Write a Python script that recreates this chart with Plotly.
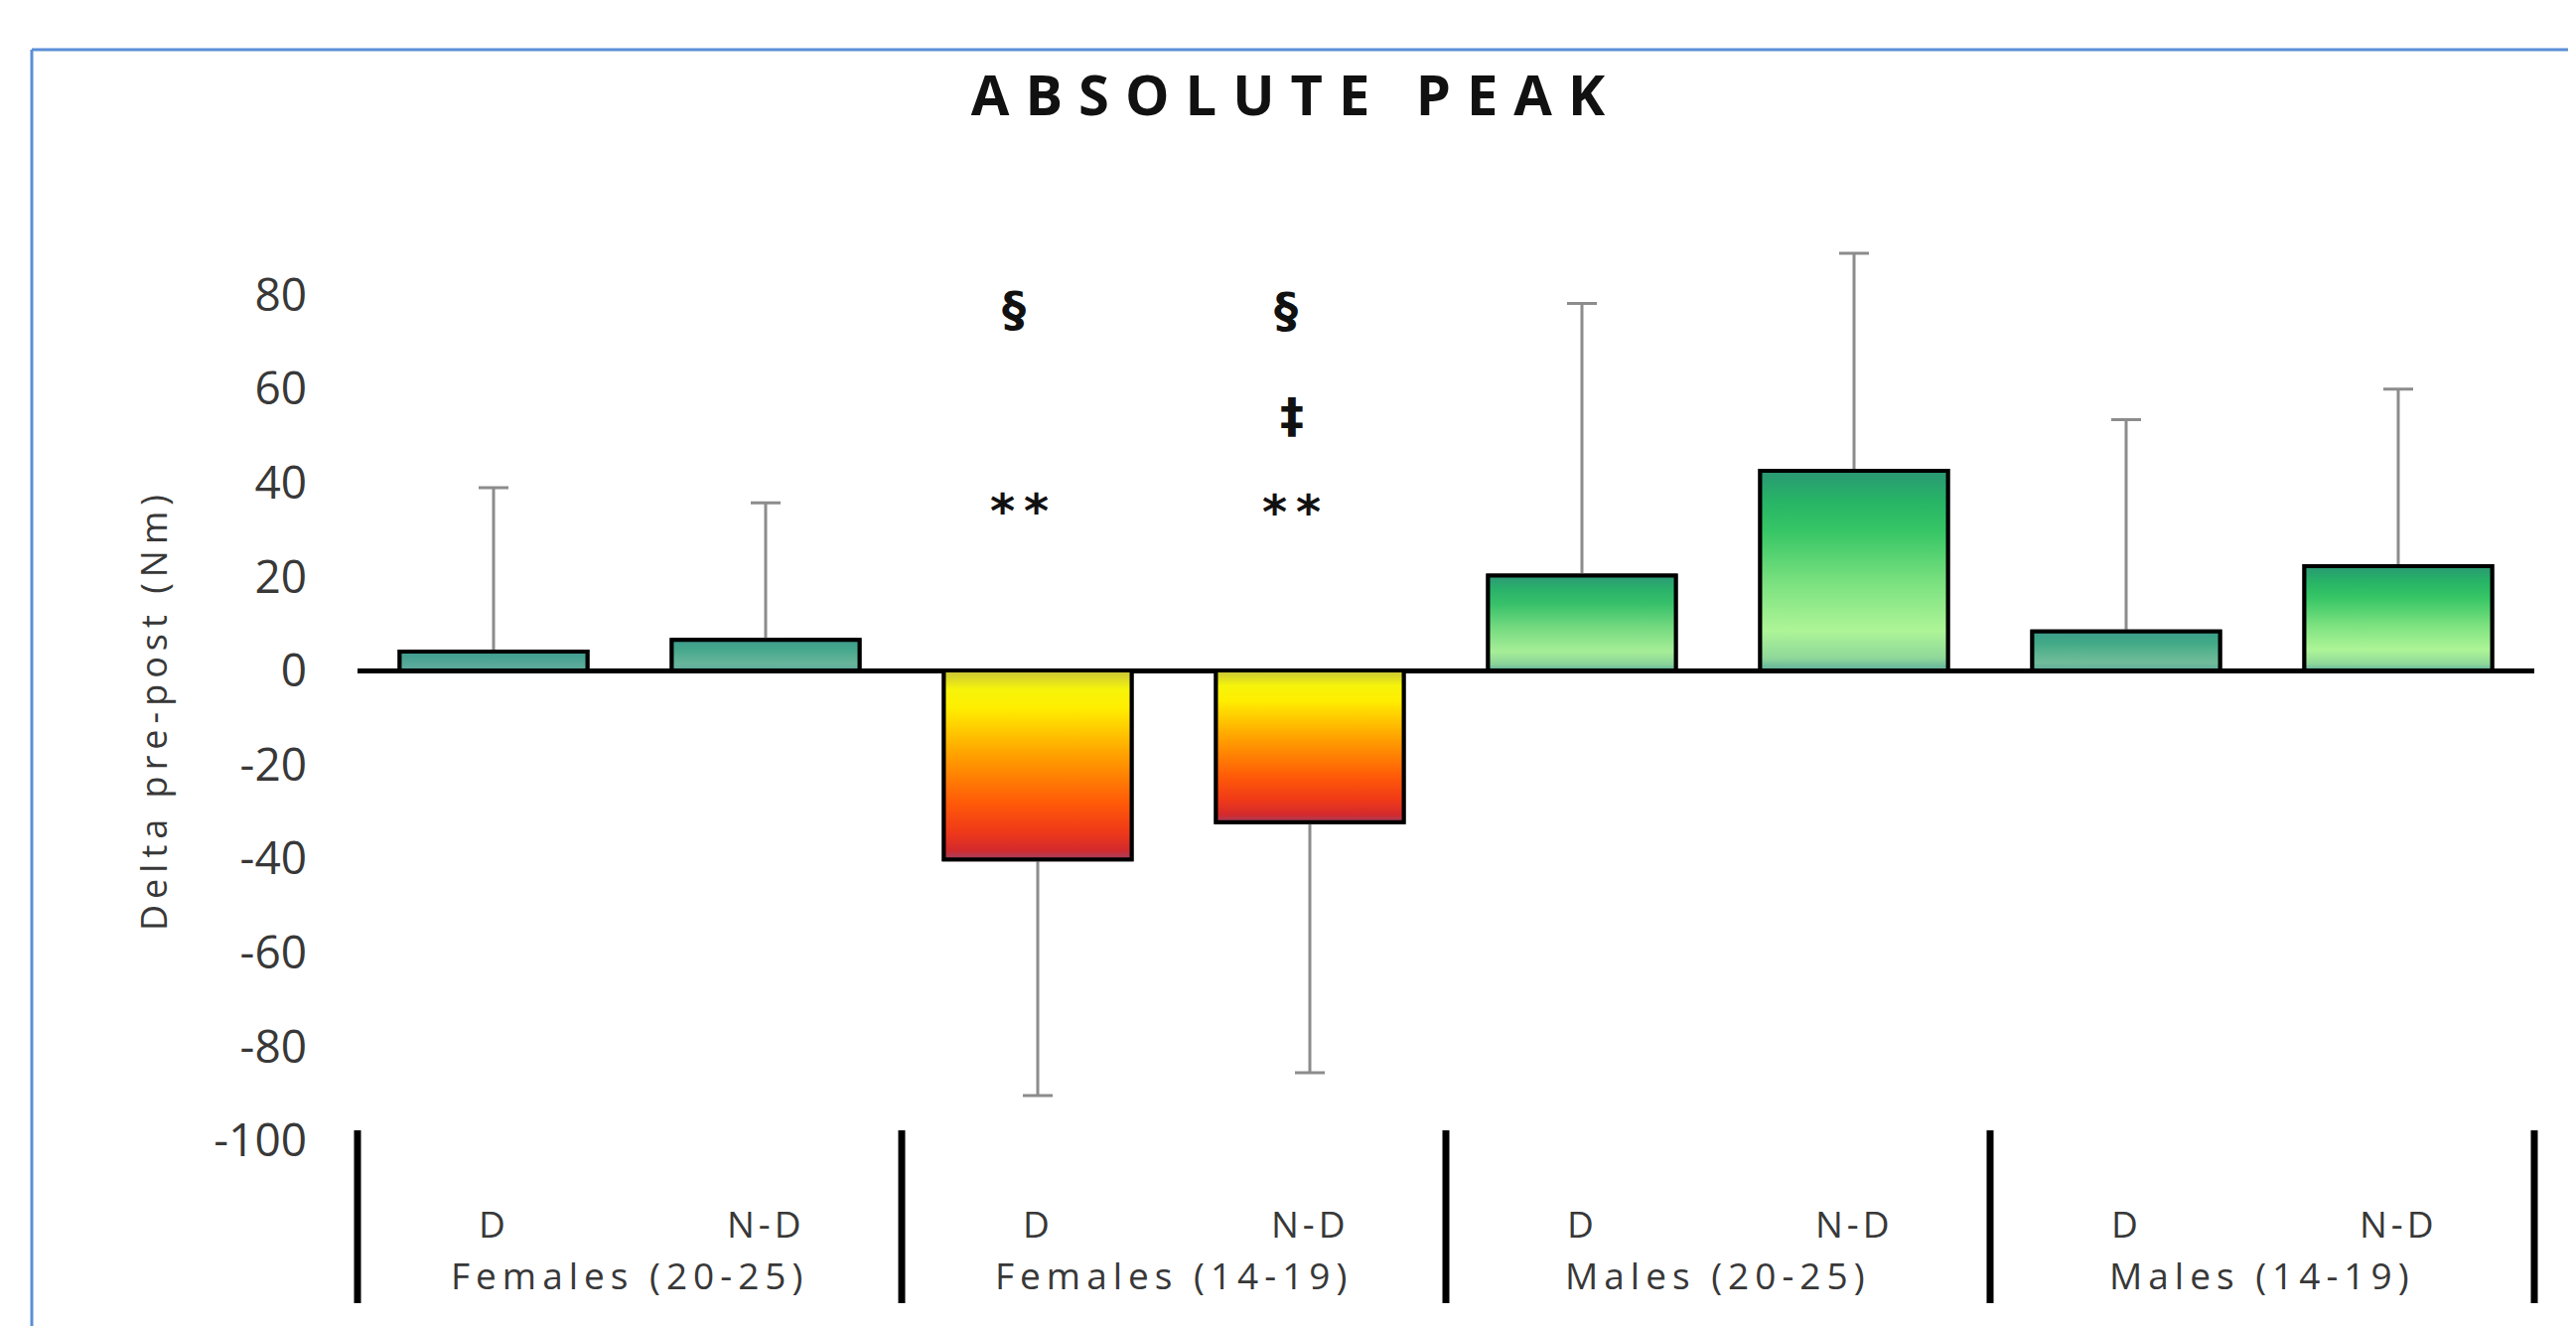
import plotly.graph_objects as go

# ---------------- data ----------------
groups = ["Females (20-25)", "Females (14-19)", "Males (20-25)", "Males (14-19)"]
sides = ["D", "N-D"]
means = [4.0, 6.5, -40.2, -32.3, 20.2, 42.5, 8.3, 22.2]
sds = [34.9, 29.2, 50.3, 53.3, 57.9, 46.3, 45.1, 37.7]
sig_index = [2, 2, 3, 3, 3]
sig_value = [77.0, 36.5, 76.8, 54.3, 36.3]
sig_text = ["§", "**", "§", "‡", "**"]
y_ticks = [-100, -80, -60, -40, -20, 0, 20, 40, 60, 80]
y_range = [-100, 100]
title_text = "ABSOLUTE PEAK"
y_title = "Delta pre-post (Nm)"

# ---------------- layout constants ----------------
W, H = 2594, 1335
L, R, T, B = 352, 50, 194, 195
PW, PH = W - L - R, H - T - B
BAR_W = 0.69
FONT = "Open Sans, Liberation Sans, Arial, sans-serif"
TXT = "#383838"


def px_to_paper_x(px):
    return (px - L) / PW


def px_to_paper_y(py):
    return (H - B - py) / PH


def hex2rgb(h):
    h = h.lstrip("#")
    return tuple(int(h[i:i + 2], 16) for i in (0, 2, 4))


def blend(c1, c2, k):
    a, b = hex2rgb(c1), hex2rgb(c2)
    return "rgb(%d,%d,%d)" % tuple(round(a[i] + (b[i] - a[i]) * k) for i in range(3))


GREEN_STOPS = [(0.0, "#5fae9c"), (0.06, "#8ed79a"), (0.2, "#aef597"), (0.45, "#78e07e"),
               (0.7, "#36c565"), (0.85, "#27b466"), (1.0, "#2a9874")]
RED_STOPS = [(0.0, "#a04060"), (0.05, "#d42a2c"), (0.15, "#f03a18"), (0.3, "#ff5a08"),
             (0.55, "#ffa000"), (0.8, "#ffee00"), (0.9, "#f6f40a"), (1.0, "#c8c43a")]
TEAL = "#4a9a9c"


def scale_for(v):
    if v < 0:
        return [[p, c] for p, c in RED_STOPS]
    k = min(1.0, abs(v) / 22.0)
    return [[p, blend(TEAL, c, k)] for p, c in GREEN_STOPS]


xs = list(range(len(means)))
labels = [f"{g} {s}" for g in groups for s in sides]

fig = go.Figure()

# base bars with error bars (drawn through the library's bar trace)
fig.add_trace(go.Bar(
    x=xs, y=means, width=BAR_W,
    marker=dict(color=["#3cc870" if v >= 0 else "#ff9000" for v in means],
                line=dict(color="black", width=4)),
    error_y=dict(type="data", symmetric=False,
                 array=[s if v >= 0 else 0 for v, s in zip(means, sds)],
                 arrayminus=[0 if v >= 0 else s for v, s in zip(means, sds)],
                 color="#8c8c8c", thickness=3, width=15),
    hovertext=labels, hoverinfo="text+y", showlegend=False,
))

# gradient fills over each bar
for i, v in zip(xs, means):
    x0, x1 = i - BAR_W / 2, i + BAR_W / 2
    fig.add_trace(go.Scatter(
        x=[x0, x1, x1, x0, x0], y=[0, 0, v, v, 0],
        mode="lines", fill="toself",
        fillgradient=dict(type="vertical", colorscale=scale_for(v)),
        line=dict(color="black", width=4),
        hoverinfo="skip", showlegend=False,
    ))

# significance symbols
sym_shift = {"§": (-24, 0), "‡": (-18, 0), "**": (-14, -12)}
for i, v, t in zip(sig_index, sig_value, sig_text):
    dx, dy = sym_shift[t]
    txt = t if t != "**" else "<span style='letter-spacing:9px'>**</span>"
    fig.add_annotation(x=i, y=v, xref="x", yref="y", text=txt, showarrow=False,
                       xshift=dx, yshift=dy, yanchor="middle",
                       font=dict(family="DejaVu Sans, sans-serif", size=48, color="#111111",
                                 weight="bold"))

# category labels (two levels)
cat_font = dict(family=FONT, size=37, color=TXT)
for gi, g in enumerate(groups):
    for si, s in enumerate(sides):
        fig.add_annotation(x=gi * 2 + si, y=px_to_paper_y(1223), xref="x", yref="paper",
                           text=f"<span style='letter-spacing:4px'>{s}</span>",
                           showarrow=False, yanchor="middle", font=cat_font)
    fig.add_annotation(x=gi * 2 + 0.5, y=px_to_paper_y(1275), xref="x", yref="paper",
                       text=f"<span style='letter-spacing:6px'>{g}</span>",
                       showarrow=False, yanchor="middle", font=cat_font)

# group separators (paper x so they are not clipped at the plot edges)
for k in range(len(groups) + 1):
    xp = k / len(groups)
    fig.add_shape(type="line", xref="paper", yref="paper",
                  x0=xp, x1=xp,
                  y0=px_to_paper_y(1130), y1=px_to_paper_y(1304),
                  line=dict(color="black", width=7))

# y axis title
fig.add_annotation(x=px_to_paper_x(146), y=px_to_paper_y(707), xref="paper", yref="paper",
                   text=f"<span style='letter-spacing:6px'>{y_title}</span>",
                   textangle=-90, showarrow=False, xanchor="center", yanchor="middle",
                   font=dict(family=FONT, size=36, color=TXT))

# blue frame (top and left edges)
fig.add_shape(type="line", xref="paper", yref="paper",
              x0=px_to_paper_x(24), x1=px_to_paper_x(2600),
              y0=px_to_paper_y(42), y1=px_to_paper_y(42),
              line=dict(color="#5b8fd6", width=3))
fig.add_shape(type="line", xref="paper", yref="paper",
              x0=px_to_paper_x(24), x1=px_to_paper_x(24),
              y0=px_to_paper_y(42), y1=px_to_paper_y(1345),
              line=dict(color="#5b8fd6", width=3))

fig.update_layout(
    width=W, height=H, autosize=False,
    margin=dict(l=L, r=R, t=T, b=B),
    paper_bgcolor="white", plot_bgcolor="white",
    showlegend=False,
    title=dict(text=f"<span style='letter-spacing:16px'>{title_text}</span>",
               x=0.5, xanchor="center", y=1 - 88 / H, yanchor="middle",
               font=dict(family=FONT, size=56, color="#111111", weight="bold")),
    xaxis=dict(range=[-0.5, len(means) - 0.5], showticklabels=False, showgrid=False,
               zeroline=False, showline=False, ticks=""),
    yaxis=dict(range=y_range, tickvals=y_ticks, ticktext=[str(t) for t in y_ticks],
               showgrid=False, showline=False, ticks="",
               zeroline=True, zerolinecolor="black", zerolinewidth=5,
               ticklabelstandoff=50,
               tickfont=dict(family=FONT, size=46, color=TXT)),
)

fig.write_html("out.html")
